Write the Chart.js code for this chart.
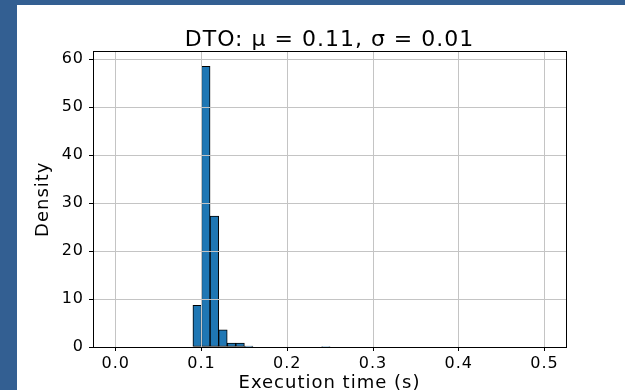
<!DOCTYPE html>
<html>
<head>
<meta charset="utf-8">
<script src="https://cdn.jsdelivr.net/npm/chart.js@4.4.1/dist/chart.umd.min.js"></script>
<style>
  html, body { margin: 0; padding: 0; }
  body { width: 625px; height: 390px; background: #335f92; overflow: hidden; position: relative; }
  #panel { position: absolute; left: 17px; top: 5px; width: 608px; height: 385px; background: #fff; }
</style>
</head>
<body>
<div id="panel"><canvas id="histChart" width="608" height="385"></canvas></div>
<script>
"use strict";

// histogram bins (width 0.01), only the non-empty ones
const binCenters = [0.095, 0.105, 0.115, 0.125, 0.135, 0.145, 0.155, 0.245];
const density = [8.7, 58.5, 27.3, 3.6, 0.8, 0.8, 0.2, 0.1];
const xTicks = [0.0, 0.1, 0.2, 0.3, 0.4, 0.5];
const yTicks = [0, 10, 20, 30, 40, 50, 60];
const titleText = 'DTO: μ = 0.11, σ = 0.01';
const xLabel = 'Execution time (s)';
const yLabel = 'Density';

Chart.defaults.font.family = "'DejaVu Sans', sans-serif";
Chart.defaults.color = '#000';

let points = [];
for (let i = 0; i < binCenters.length; i++) {
    points.push({ x: binCenters[i], y: density[i] });
}

// text in the source looks a little wide, spread the letters slightly
const spacing = {
    id: 'spacing',
    beforeUpdate(chart) { chart.ctx.letterSpacing = '1px'; },
    beforeDraw(chart) { chart.ctx.letterSpacing = '1px'; }
};

const frame = {
    id: 'frame',
    afterDraw(chart) {
        const a = chart.chartArea;
        const ctx = chart.ctx;
        ctx.save();
        ctx.strokeStyle = '#000';
        ctx.lineWidth = 1;
        ctx.strokeRect(Math.round(a.left) + 0.5, Math.round(a.top) + 0.5,
            Math.round(a.right - a.left), Math.round(a.bottom - a.top));
        ctx.restore();
    }
};

const ctx = document.getElementById('histChart').getContext('2d');
const histChart = new Chart(ctx, {
    type: 'bar',
    data: {
        datasets: [{
            data: points,
            backgroundColor: '#1f77b4',
            borderColor: '#000',
            borderWidth: 1,
            borderSkipped: false,
            barPercentage: 1,
            categoryPercentage: 1
        }]
    },
    options: {
        responsive: false,
        animation: false,
        layout: { padding: { top: 0, left: 0, right: 59, bottom: 0 } },
        plugins: {
            legend: { display: false },
            tooltip: { enabled: false },
            title: {
                display: true,
                text: titleText,
                fullSize: false,
                font: { size: 22, weight: 'normal' },
                padding: { top: 22, bottom: -2 }
            }
        },
        scales: {
            x: {
                type: 'linear',
                offset: false,
                min: -0.0265,
                max: 0.525,
                afterBuildTicks: (scale) => { scale.ticks = xTicks.map(v => ({ value: v })); },
                afterFit: (scale) => { scale.height = 43; },
                ticks: {
                    font: { size: 16 },
                    padding: 3,
                    callback: (v) => v.toFixed(1)
                },
                grid: { offset: false, color: '#c4c4c4', lineWidth: 1, z: 1, tickColor: '#000', tickLength: 4 },
                border: { color: '#000', width: 1, z: 1 },
                title: {
                    display: true,
                    text: xLabel,
                    font: { size: 18, lineHeight: 1 },
                    padding: { top: 0, bottom: -2 }
                }
            },
            y: {
                min: 0,
                max: 61.6,
                afterBuildTicks: (scale) => { scale.ticks = yTicks.map(v => ({ value: v })); },
                afterFit: (scale) => { scale.width = 76; },
                ticks: { font: { size: 16 }, padding: 5 },
                grid: { color: '#c4c4c4', lineWidth: 1, z: 1, tickColor: '#000', tickLength: 4 },
                border: { color: '#000', width: 1, z: 1 },
                title: {
                    display: true,
                    text: yLabel,
                    font: { size: 18, lineHeight: 1.2 },
                    padding: { top: 16, bottom: 0 }
                }
            }
        }
    },
    plugins: [spacing, frame]
});
</script>
</body>
</html>
